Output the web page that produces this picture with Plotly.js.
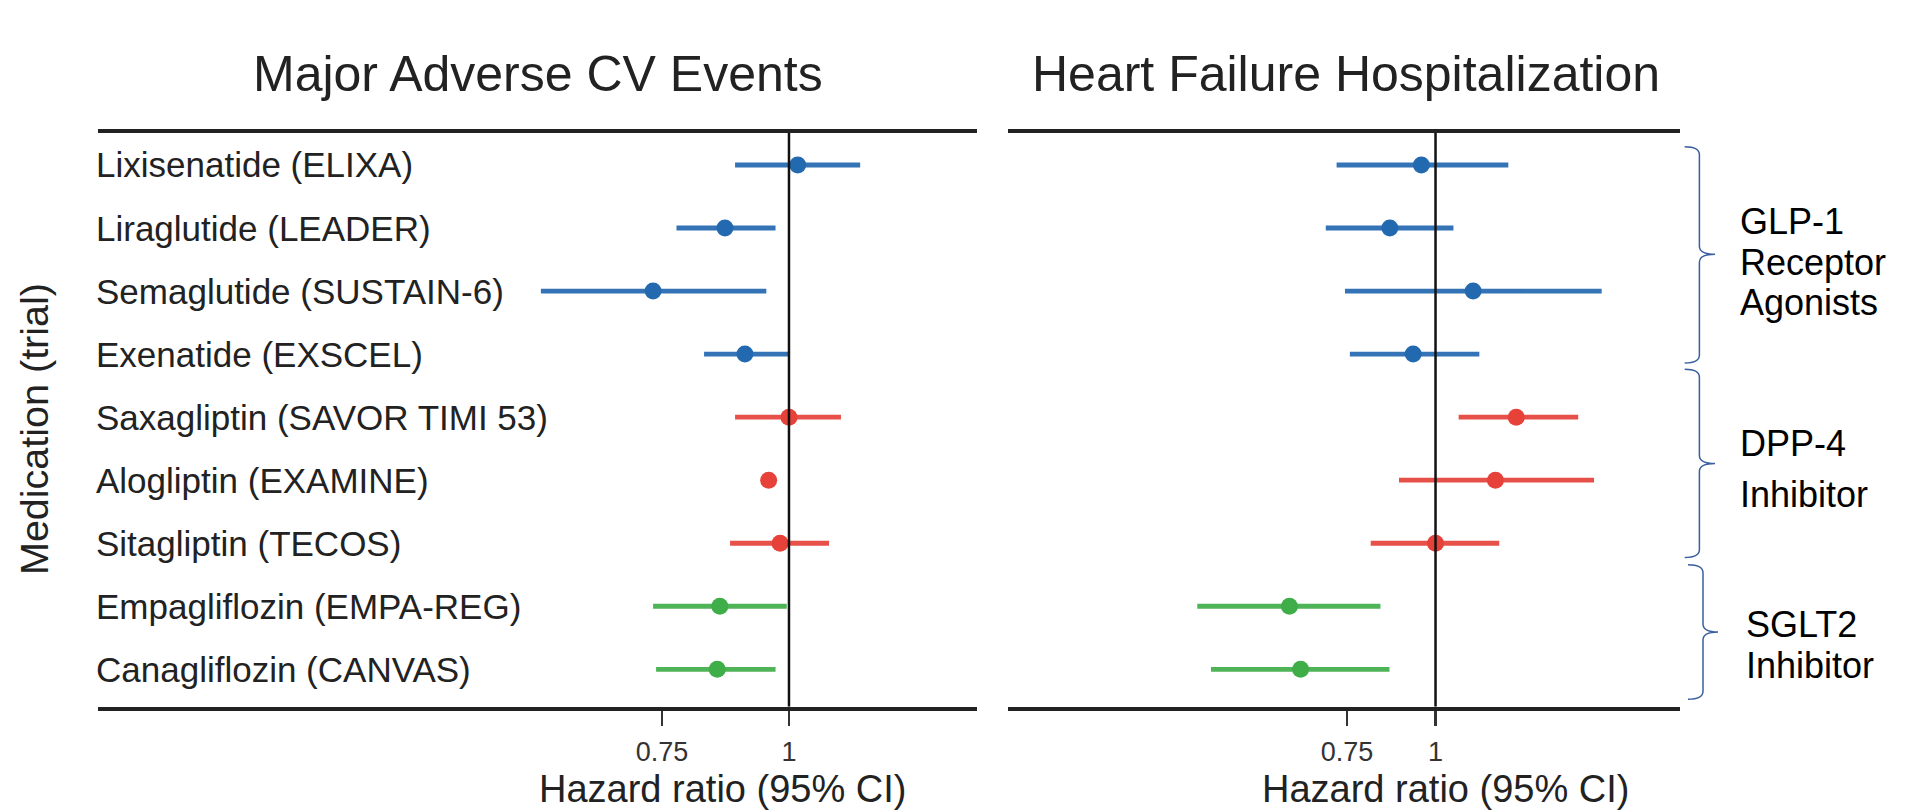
<!DOCTYPE html>
<html>
<head>
<meta charset="utf-8">
<script src="https://cdn.plot.ly/plotly-3.0.1.min.js"></script>
<style>
  html, body { margin: 0; padding: 0; background: #ffffff; }
  #chart { width: 1917px; height: 812px; }
</style>
</head>
<body>
<div id="chart"></div>
<script>
// ---------------- DATA ----------------
const categories = [
  'Lixisenatide (ELIXA)',
  'Liraglutide (LEADER)',
  'Semaglutide (SUSTAIN-6)',
  'Exenatide (EXSCEL)',
  'Saxagliptin (SAVOR TIMI 53)',
  'Alogliptin (EXAMINE)',
  'Sitagliptin (TECOS)',
  'Empagliflozin (EMPA-REG)',
  'Canagliflozin (CANVAS)'
];
const drugClass = ['GLP-1', 'GLP-1', 'GLP-1', 'GLP-1', 'DPP-4', 'DPP-4', 'DPP-4', 'SGLT2', 'SGLT2'];

// Major adverse CV events: hazard ratio and 95% CI
const maceHR = [1.02, 0.865, 0.735, 0.905, 1.00, 0.955, 0.98, 0.855, 0.85];
const maceLo = [0.885, 0.775, 0.57, 0.825, 0.885, null, 0.875, 0.735, 0.74];
const maceHi = [1.175, 0.97, 0.95, 1.00, 1.125, null, 1.095, 0.995, 0.97];

// Heart failure hospitalization: hazard ratio and 95% CI
const hfHR = [0.955, 0.862, 1.13, 0.93, 1.30, 1.215, 1.00, 0.622, 0.645];
const hfLo = [0.725, 0.70, 0.745, 0.757, 1.078, 0.888, 0.81, 0.461, 0.482];
const hfHi = [1.267, 1.06, 1.716, 1.153, 1.59, 1.674, 1.23, 0.836, 0.861];

const tickVals = [0.75, 1];
const tickText = ['0.75', '1'];
const panelTitles = ['Major Adverse CV Events', 'Heart Failure Hospitalization'];
const xTitle = 'Hazard ratio (95% CI)';
const yTitle = 'Medication (trial)';
const classNames = ['GLP-1', 'DPP-4', 'SGLT2'];
const classLabelLines = [['GLP-1', 'Receptor', 'Agonists'], ['DPP-4', 'Inhibitor'], ['SGLT2', 'Inhibitor']];

// ---------------- STYLE / LAYOUT ----------------
const W = 1917, H = 812;
const FONT = 'Liberation Sans, Arial, Helvetica, sans-serif';
const classColor = { 'GLP-1': '#2369b0', 'DPP-4': '#e6423a', 'SGLT2': '#3fae49' };
const px = v => v / W;
const py = v => 1 - v / H;

const yTopPx = 132.7, yBotPx = 706.7;
const yRange = [8.593, -0.512];

const traces = [];
function addPanel(hr, lo, hi, xa, ya) {
  classNames.forEach(cls => {
    const lx = [], ly = [], mx = [], my = [];
    hr.forEach((v, i) => {
      if (drugClass[i] !== cls) return;
      if (lo[i] !== null && hi[i] !== null) {
        lx.push(lo[i], hi[i], null);
        ly.push(i, i, null);
      }
      mx.push(v); my.push(i);
    });
    traces.push({
      type: 'scatter', mode: 'lines', x: lx, y: ly, xaxis: xa, yaxis: ya,
      line: { color: classColor[cls], width: 4.8 }, opacity: 0.92,
      hoverinfo: 'skip', showlegend: false
    });
    traces.push({
      type: 'scatter', mode: 'markers', x: mx, y: my, xaxis: xa, yaxis: ya,
      marker: { color: classColor[cls], size: 17, line: { width: 0 } },
      showlegend: false
    });
  });
  // reference line at HR = 1
  traces.push({
    type: 'scatter', mode: 'lines', x: [1, 1], y: [yRange[1], yRange[0]], xaxis: xa, yaxis: ya,
    line: { color: '#111', width: 2.5 }, hoverinfo: 'skip', showlegend: false
  });
}
addPanel(maceHR, maceLo, maceHi, 'x', 'y');
addPanel(hfHR, hfLo, hfHi, 'x2', 'y2');

const axisCommon = {
  type: 'log', tickvals: tickVals, ticktext: tickText,
  ticks: 'outside', ticklen: 15, tickwidth: 2.5, tickcolor: '#333',
  tickfont: { family: FONT, size: 27, color: '#333' },
  ticklabelstandoff: 3,
  showline: true, linewidth: 4, linecolor: '#222', mirror: true,
  showgrid: false, zeroline: false, fixedrange: true
};
const yCommon = {
  range: yRange, domain: [py(yBotPx), py(yTopPx)],
  showticklabels: false, ticks: '', showgrid: false, zeroline: false, showline: false, fixedrange: true
};

const annotations = [];
panelTitles.forEach((t, k) => {
  annotations.push({
    text: t, xref: 'paper', yref: 'paper', x: px([538, 1346][k]), y: py(74),
    xanchor: 'center', yanchor: 'middle', showarrow: false,
    font: { family: FONT, size: 50, color: '#222' }
  });
  annotations.push({
    text: xTitle, xref: 'paper', yref: 'paper', x: px([722, 1445][k]), y: py(789),
    xanchor: 'center', yanchor: 'middle', showarrow: false,
    font: { family: FONT, size: 38, color: '#222' }
  });
});
categories.forEach((c, i) => {
  annotations.push({
    text: c, xref: 'paper', yref: 'y', x: px(94), y: i,
    xanchor: 'left', yanchor: 'middle', showarrow: false,
    font: { family: FONT, size: 35, color: '#222' }
  });
});
annotations.push({
  text: yTitle, xref: 'paper', yref: 'paper', x: px(34), y: py(429), textangle: -90,
  xanchor: 'center', yanchor: 'middle', showarrow: false,
  font: { family: FONT, size: 39.5, color: '#222' }
});
const classLineY = [[221.5, 262, 302.5], [443, 494], [624.5, 665]];
const classLineX = [1738, 1738, 1744];
classLabelLines.forEach((lines, k) => {
  lines.forEach((ln, j) => {
    annotations.push({
      text: ln, xref: 'paper', yref: 'paper', x: px(classLineX[k]), y: py(classLineY[k][j]),
      xanchor: 'left', yanchor: 'middle', showarrow: false,
      font: { family: FONT, size: 36, color: '#000' }
    });
  });
});

// curly braces for drug classes
function brace(top, bot, mid, xv, xt, xp) {
  const r = 8;
  const P = (x, y) => px(x) + ',' + py(y);
  return 'M' + P(xt, top) + ' Q' + P(xv, top) + ' ' + P(xv, top + r) +
    ' L' + P(xv, mid - r) + ' Q' + P(xv, mid) + ' ' + P(xp, mid) +
    ' Q' + P(xv, mid) + ' ' + P(xv, mid + r) +
    ' L' + P(xv, bot - r) + ' Q' + P(xv, bot) + ' ' + P(xt, bot);
}
const braceGeom = [
  [146.7, 363.1, 254.3, 1699.4, 1684.7, 1715],
  [369.2, 557.5, 463.4, 1699.4, 1684.7, 1715],
  [564.8, 699.3, 632.1, 1703, 1688, 1718]
];
const shapes = braceGeom.map(g => ({
  type: 'path', xref: 'paper', yref: 'paper', path: brace(...g),
  line: { color: '#3a5fa0', width: 1.5 }
}));

const layout = {
  width: W, height: H, autosize: false,
  margin: { l: 0, r: 0, t: 0, b: 0, pad: 0 },
  paper_bgcolor: '#ffffff', plot_bgcolor: 'rgba(0,0,0,0)',
  font: { family: FONT, color: '#222' },
  showlegend: false,
  xaxis: Object.assign({}, axisCommon, { domain: [px(98), px(977)], range: [-0.6799, 0.1850], anchor: 'y' }),
  xaxis2: Object.assign({}, axisCommon, { domain: [px(1008), px(1680)], range: [-0.6035, 0.3451], anchor: 'y2' }),
  yaxis: Object.assign({}, yCommon, { anchor: 'x' }),
  yaxis2: Object.assign({}, yCommon, { anchor: 'x2' }),
  annotations: annotations,
  shapes: shapes
};

Plotly.newPlot('chart', traces, layout, { displayModeBar: false, staticPlot: true });
</script>
</body>
</html>
